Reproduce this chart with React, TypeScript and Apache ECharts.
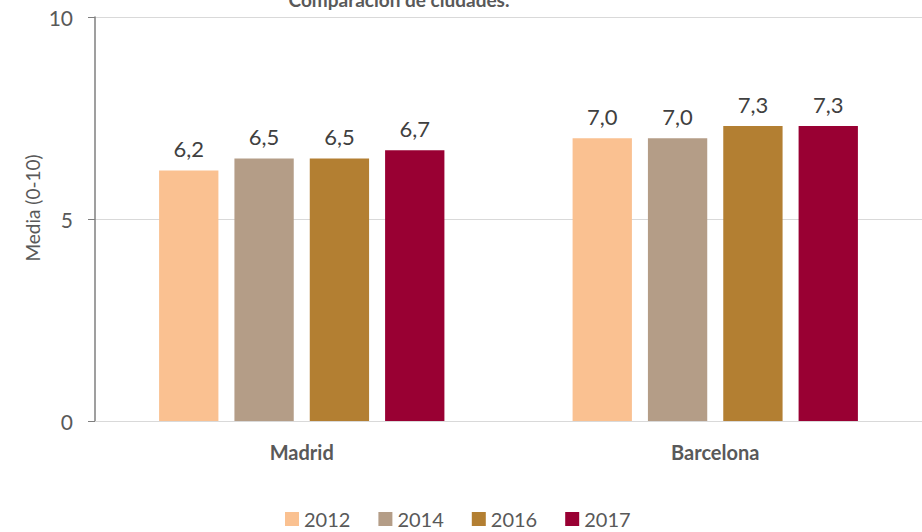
import React, { useEffect, useRef } from "react";
import * as echarts from "echarts";

const categories = ["Madrid", "Barcelona"];
const years = ["2012", "2014", "2016", "2017"];
const values2012 = [6.2, 7.0];
const values2014 = [6.5, 7.0];
const values2016 = [6.5, 7.3];
const values2017 = [6.7, 7.3];
const colors = ["#FAC191", "#B49D87", "#B37F32", "#990033"];
const yTicks = [0, 5, 10];
const yAxisTitle = "Media (0-10)";

const FONT = "Lato, 'Open Sans', sans-serif";

export default function App() {
  const ref = useRef<HTMLDivElement>(null);
  useEffect(() => {
    if (!ref.current) return;
    const chart = echarts.init(ref.current, null, { renderer: "svg" });
    const seriesValues = [values2012, values2014, values2016, values2017];
    chart.setOption({
      animation: false,
      textStyle: { fontFamily: FONT },
      title: {
        text: "Comparación de ciudades.",
        left: 394,
        textAlign: "center",
        top: -15,
        textStyle: { fontSize: 19, fontWeight: "bold", color: "#595959", fontFamily: FONT },
      },
      graphic: [
        {
          type: "text",
          x: 32,
          y: 208,
          rotation: Math.PI / 2,
          style: {
            text: yAxisTitle,
            fontSize: 19,
            fill: "#595959",
            fontFamily: FONT,
            align: "center",
            verticalAlign: "middle",
          },
        },
      ],
      legend: {
        data: years,
        left: 280,
        top: 504,
        itemWidth: 14,
        itemHeight: 14,
        itemGap: 28,
        icon: "rect",
        textStyle: { fontSize: 20, color: "#595959", fontFamily: FONT, padding: [0, 0, 0, 0] },
      },
      grid: { left: 95, right: 0, top: 17, bottom: 111 },
      xAxis: {
        type: "category",
        data: categories,
        axisLine: { show: true, lineStyle: { color: "#D9D9D9", width: 1 } },
        axisTick: { show: false },
        axisLabel: { fontSize: 20, fontWeight: "bold", color: "#595959", margin: 21, fontFamily: FONT },
      },
      yAxis: {
        type: "value",
        min: yTicks[0],
        max: yTicks[yTicks.length - 1],
        interval: 5,
        axisLine: { show: true, lineStyle: { color: "#7F7F7F", width: 1.5 } },
        axisTick: { show: true, length: 7, lineStyle: { color: "#7F7F7F" } },
        axisLabel: { fontSize: 21, color: "#595959", margin: 22, fontFamily: FONT },
        splitLine: { show: true, lineStyle: { color: "#D9D9D9", width: 1 } },
      },
      series: years.map((y, i) => ({
        name: y,
        type: "bar",
        data: seriesValues[i],
        barGap: "27%",
        barCategoryGap: "31%",
        itemStyle: { color: colors[i] },
        label: {
          show: true,
          position: "top",
          distance: 11,
          fontSize: 22,
          color: "#404040",
          fontFamily: FONT,
          formatter: (p: any) => p.value.toFixed(1).replace(".", ","),
        },
      })),
    });
    return () => chart.dispose();
  }, []);
  return (
    <div
      ref={ref}
      style={{ position: "fixed", left: 0, top: 0, width: 922, height: 532, background: "#fff" }}
    />
  );
}
